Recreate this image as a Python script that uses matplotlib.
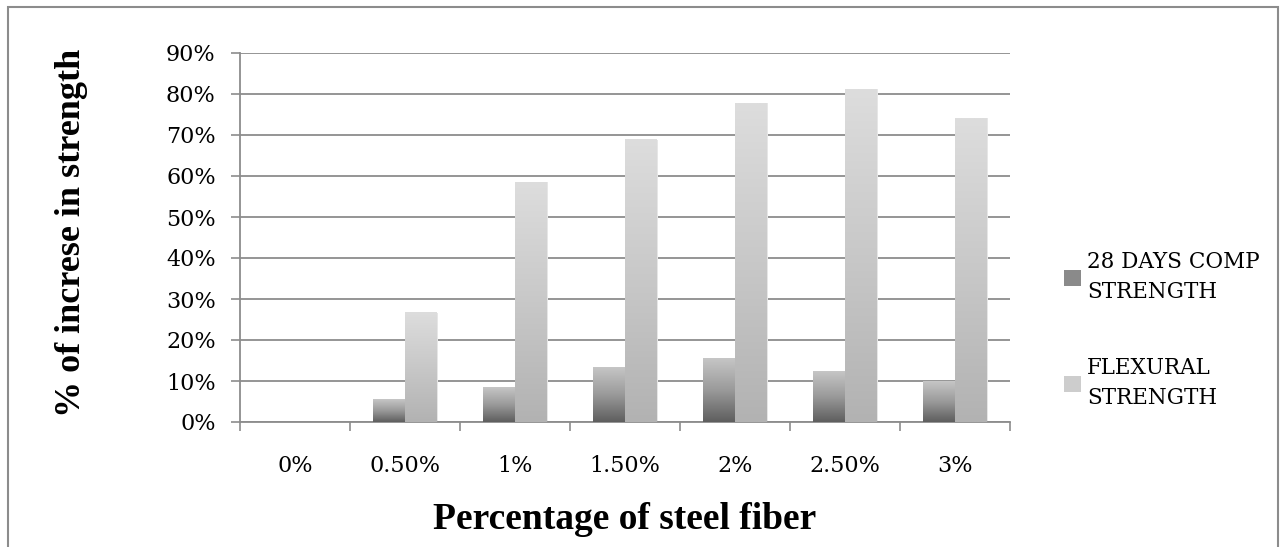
import numpy as np
import matplotlib.pyplot as plt
from matplotlib.colors import LinearSegmentedColormap
from matplotlib.patches import Patch, Rectangle

categories = ['0%', '0.50%', '1%', '1.50%', '2%', '2.50%', '3%']
comp_strength = [0.0, 0.056, 0.085, 0.132, 0.154, 0.124, 0.098]
flex_strength = [0.0, 0.266, 0.585, 0.688, 0.778, 0.812, 0.741]
series_names = ['28 DAYS COMP\nSTRENGTH', 'FLEXURAL\nSTRENGTH']

comp_cmap = LinearSegmentedColormap.from_list('comp', ['#5e5e5e', '#9a9a9a', '#c6c6c6'])
flex_cmap = LinearSegmentedColormap.from_list('flex', ['#b2b2b2', '#c8c8c8', '#dddddd'])

serif = ['DejaVu Serif']
times = ['Liberation Serif', 'DejaVu Serif']

fig = plt.figure(figsize=(12.84, 5.47), dpi=100)
fig.patches.append(Rectangle((8 / 1284, -0.1), 1270 / 1284, 1.1 - 7 / 547,
                             transform=fig.transFigure, fill=False,
                             edgecolor='#8c8c8c', linewidth=1.5))
ax = fig.add_axes([240 / 1284, 125 / 547, 770 / 1284, 369 / 547])

x = np.arange(len(categories))
w = 0.29
grad = np.linspace(0, 1, 256).reshape(-1, 1)


def gradient_bars(xs, vals, cmap):
	bars = ax.bar(xs, vals, w, color='none', edgecolor='none', zorder=3)
	for b in bars:
		if b.get_height() <= 0:
			continue
		x0 = b.get_x()
		# soft shadow on the right
		ax.add_patch(Rectangle((x0 + 0.01, 0), b.get_width(), b.get_height(),
		                       facecolor='#e6e6e6', edgecolor='none', zorder=2.5))
		ax.imshow(grad, cmap=cmap, origin='lower', aspect='auto',
		          extent=[x0, x0 + b.get_width(), 0, b.get_height()], zorder=3)


gradient_bars(x - w / 2, comp_strength, comp_cmap)
gradient_bars(x + w / 2, flex_strength, flex_cmap)

ax.set_xlim(-0.5, len(categories) - 0.5)
ax.set_ylim(0, 0.9)
ax.set_yticks(np.arange(0, 0.91, 0.1))
ax.set_yticklabels([f'{int(round(v * 100))}%' for v in np.arange(0, 0.91, 0.1)],
                   fontfamily=serif, fontsize=16)
ax.set_xticks(x)
ax.set_xticklabels(categories, fontfamily=serif, fontsize=16)
ax.set_xticks(np.arange(-0.5, len(categories)), minor=True)
ax.tick_params(axis='x', which='major', length=0, pad=24)
ax.tick_params(axis='x', which='minor', length=6.5, color='#8c8c8c', width=1.2)
ax.tick_params(axis='y', length=6.5, color='#8c8c8c', width=1.2, pad=11)

ax.grid(axis='y', color='#8c8c8c', linewidth=1.3, zorder=1)
ax.set_axisbelow(True)
for s in ['top', 'right']:
	ax.spines[s].set_visible(False)
for s in ['left', 'bottom']:
	ax.spines[s].set_color('#8c8c8c')
	ax.spines[s].set_linewidth(1.3)

fig.text(625 / 1284, 1 - 529 / 547, 'Percentage of steel fiber', fontfamily=times,
         fontsize=27, fontweight='bold', ha='center', va='baseline')
fig.text(72 / 1284, 1 - 233 / 547, '% of increse in strength', fontfamily=times,
         fontsize=26, fontweight='bold', rotation=90, ha='center', va='center')

handles = [Patch(facecolor='#8a8a8a', edgecolor='none'),
           Patch(facecolor='#cdcdcd', edgecolor='none')]
leg = fig.legend(handles, series_names, loc='center left',
                 bbox_to_anchor=(1045 / 1284, 1 - 330 / 547),
                 frameon=False, prop={'family': serif, 'size': 15.5}, handlelength=0.75,
                 handleheight=0.75, handletextpad=0.3, labelspacing=2.55)
for t in leg.get_texts():
	t.set_linespacing(1.45)

fig.savefig('out.png', dpi=100)
